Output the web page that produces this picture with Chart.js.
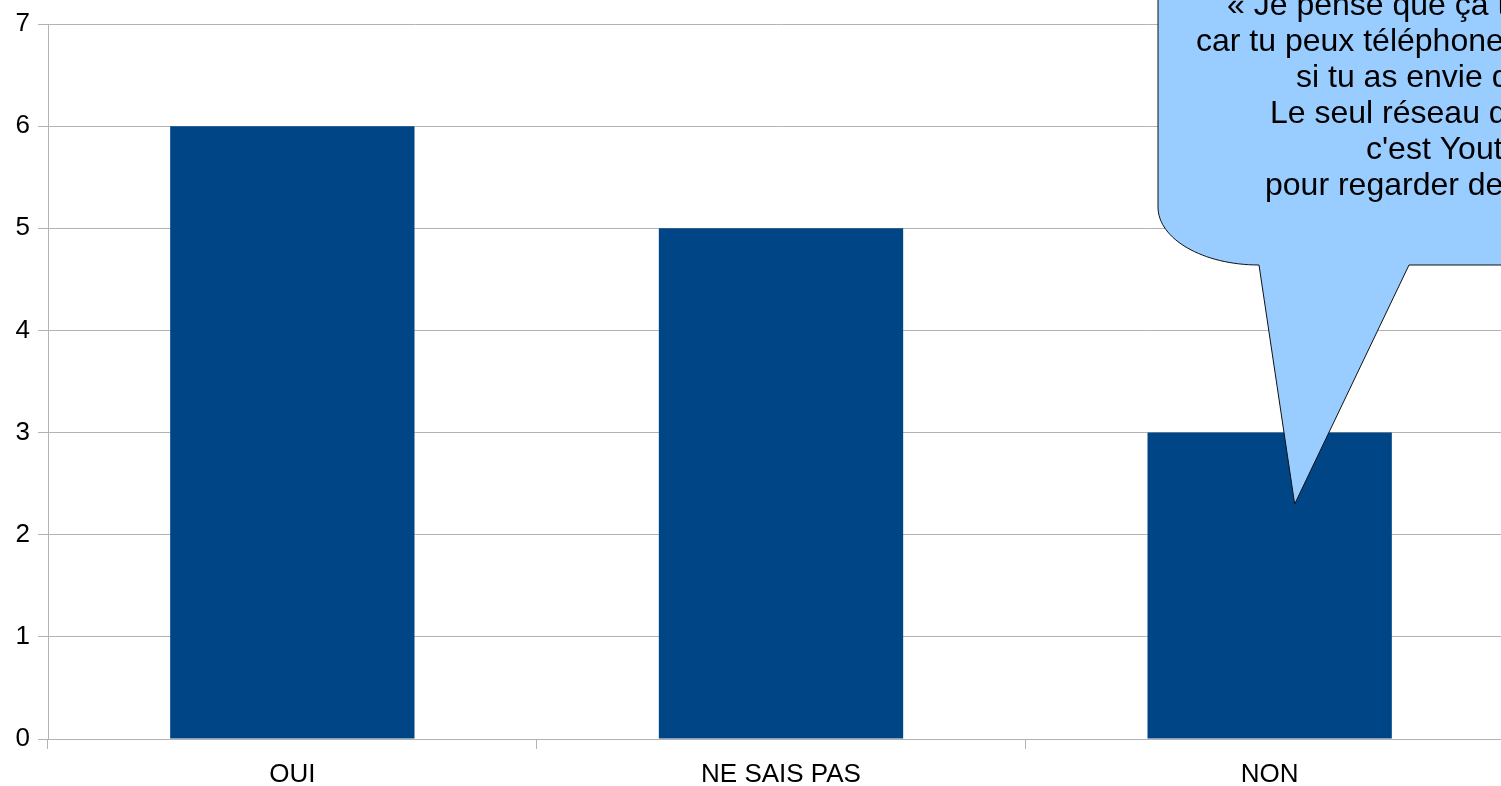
<!DOCTYPE html>
<html>
<head>
<meta charset="utf-8">
<script src="https://cdn.jsdelivr.net/npm/chart.js@4"></script>
<style>
  html, body { margin: 0; padding: 0; overflow: hidden; background: #fff; }
  #wrap { width: 1520px; height: 786px; }
</style>
</head>
<body>
<div id="wrap"><canvas id="bar-chart" width="1520" height="786"></canvas></div>
<script>
// Chart values
const categories = ['OUI', 'NE SAIS PAS', 'NON'];
const answers = [6, 5, 3];
const yTicks = [0, 1, 2, 3, 4, 5, 6, 7];

// Text of the speech bubble (cut off on the right in the original)
const quoteLines = [
  "« Je pense que ça t'aide beaucoup",
  "car tu peux téléphoner à tes amis",
  "si tu as envie de leur parler.",
  "Le seul réseau que j'utilise",
  "c'est Youtube",
  "pour regarder des vidéos. »"
];
const quoteStarts = [1227, 1196, 1296, 1270, 1366, 1265];

const gridColor = '#b3b3b3';

// Draws the callout bubble on top of the bars
const bubblePlugin = {
  id: 'bubble',
  afterDraw(chart) {
    const ctx = chart.ctx;
    const x = chart.scales.x;
    const y = chart.scales.y;
    const tipX = x.getPixelForValue(2) + 25;
    const tipY = y.getPixelForValue(2.3);
    ctx.save();
    ctx.beginPath();
    ctx.moveTo(1158, -10);
    ctx.lineTo(1158, 207);
    ctx.bezierCurveTo(1158, 239, 1203, 265, 1259, 265);
    ctx.lineTo(tipX, tipY);
    ctx.lineTo(1409, 265);
    ctx.lineTo(1540, 265);
    ctx.lineTo(1540, -10);
    ctx.closePath();
    ctx.fillStyle = '#99ccff';
    ctx.fill();
    ctx.lineWidth = 1;
    ctx.strokeStyle = '#111';
    ctx.stroke();

    ctx.fillStyle = '#000';
    ctx.font = '32px "Liberation Sans", Arial, sans-serif';
    ctx.textAlign = 'left';
    ctx.textBaseline = 'alphabetic';
    quoteLines.forEach((line, i) => {
      ctx.fillText(line, quoteStarts[i], 15 + i * 36);
    });
    ctx.restore();
  }
};

const data = {
  labels: categories,
  datasets: [{
    label: 'Réponses',
    data: answers,
    backgroundColor: '#004586',
    barPercentage: 0.5,
    categoryPercentage: 1.0
  }]
};

const config = {
  type: 'bar',
  data: data,
  options: {
    responsive: false,
    animation: false,
    layout: {
      padding: { top: 24, right: 6, left: 0, bottom: 0 }
    },
    plugins: {
      legend: { display: false },
      tooltip: { enabled: false }
    },
    scales: {
      x: {
        grid: {
          offset: true,
          drawOnChartArea: false,
          color: gridColor,
          tickLength: 10
        },
        border: { color: gridColor },
        ticks: {
          color: '#000',
          padding: 10,
          font: { family: '"Liberation Sans", Arial, sans-serif', size: 26 }
        },
        afterFit(scale) { scale.height = 47; }
      },
      y: {
        min: 0,
        max: 7,
        afterBuildTicks(scale) {
          scale.ticks = yTicks.map(v => ({ value: v }));
        },
        grid: {
          color: gridColor,
          tickLength: 10
        },
        border: { color: gridColor },
        ticks: {
          color: '#000',
          padding: 8,
          font: { family: '"Liberation Sans", Arial, sans-serif', size: 26 }
        },
        afterFit(scale) { scale.width = 48; }
      }
    }
  },
  plugins: [bubblePlugin]
};

var myChart = new Chart(
  document.getElementById('bar-chart'),
  config
);
</script>
</body>
</html>
